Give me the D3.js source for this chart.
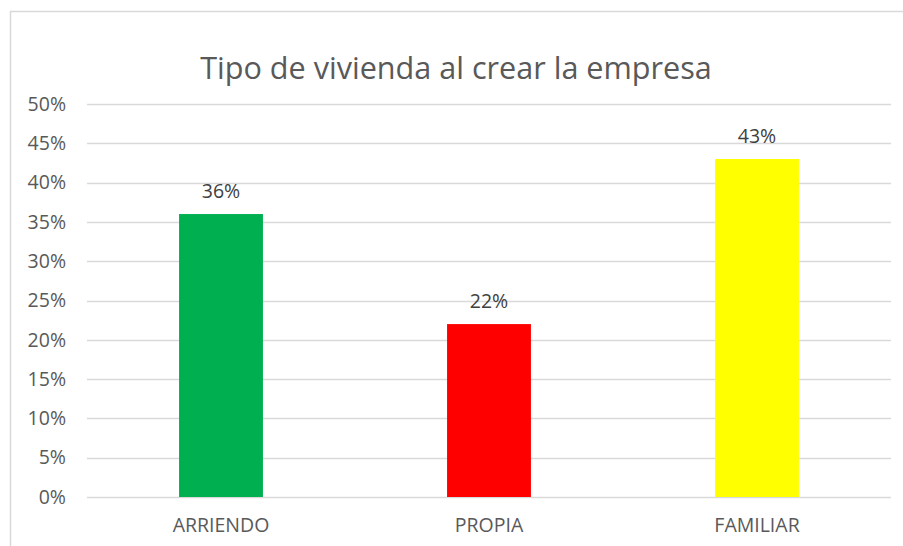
<!DOCTYPE html>
<html>
<head>
<meta charset="utf-8">
<script src="https://cdn.jsdelivr.net/npm/d3@7"></script>
<style>
  body { margin: 0; background: #fff; }
  svg { font-family: "Open Sans", sans-serif; }
</style>
</head>
<body>
<svg width="903" height="546"></svg>
<script>
var categories = ["ARRIENDO", "PROPIA", "FAMILIAR"];
var values = [0.36, 0.22, 0.43];
var barColors = ["#00B050", "#FF0000", "#FFFF00"];
var yTicks = [0, 0.05, 0.10, 0.15, 0.20, 0.25, 0.30, 0.35, 0.40, 0.45, 0.50];
var title = "Tipo de vivienda al crear la empresa";

var svg = d3.select("svg"),
    margin = {top: 104, right: 12, bottom: 49, left: 87},
    width = +svg.attr("width") - margin.left - margin.right,
    height = +svg.attr("height") - margin.top - margin.bottom;

// chart frame (only top and left edges are visible in the crop)
svg.append("rect")
    .attr("x", 10.5).attr("y", 11.5)
    .attr("width", 1000).attr("height", 1000)
    .attr("fill", "none")
    .attr("stroke", "#d9d9d9")
    .attr("stroke-width", 1.5);

var x = d3.scaleBand()
    .domain(categories)
    .range([0, width])
    .paddingInner(0.687)
    .paddingOuter(0.3435);

var y = d3.scaleLinear()
    .domain([0, 0.5])
    .range([height, 0]);

var g = svg.append("g")
    .attr("transform", "translate(" + margin.left + "," + margin.top + ")");

// gridlines
g.append("g")
    .selectAll("line")
    .data(yTicks)
    .enter().append("line")
    .attr("x1", 0).attr("x2", width)
    .attr("y1", function(d) { return Math.round(y(d)) + 0.5; })
    .attr("y2", function(d) { return Math.round(y(d)) + 0.5; })
    .attr("stroke", "#d9d9d9")
    .attr("stroke-width", 1.5);

var yAxis = d3.axisLeft(y)
    .tickValues(yTicks)
    .tickFormat(d3.format(".0%"))
    .tickSize(0)
    .tickPadding(21);

g.append("g")
    .call(yAxis)
    .call(function(a) { a.select(".domain").remove(); })
    .selectAll("text")
    .attr("fill", "#595959")
    .attr("font-size", 19.5)
    .attr("font-family", "Open Sans, sans-serif");

g.selectAll(".bar")
    .data(values)
    .enter().append("rect")
    .attr("class", "bar")
    .attr("x", function(d, i) { return x(categories[i]); })
    .attr("width", x.bandwidth())
    .attr("y", function(d) { return y(d); })
    .attr("height", function(d) { return height - y(d); })
    .attr("fill", function(d, i) { return barColors[i]; });

g.selectAll(".label")
    .data(values)
    .enter().append("text")
    .attr("class", "label")
    .attr("x", function(d, i) { return x(categories[i]) + x.bandwidth() / 2; })
    .attr("y", function(d) { return y(d) - 16; })
    .attr("text-anchor", "middle")
    .attr("fill", "#404040")
    .attr("font-size", 19.5)
    .text(d3.format(".0%"));

var xAxis = d3.axisBottom(x).tickSize(0).tickPadding(21);

g.append("g")
    .attr("transform", "translate(0," + height + ")")
    .call(xAxis)
    .call(function(a) { a.select(".domain").remove(); })
    .selectAll("text")
    .attr("fill", "#595959")
    .attr("font-size", 19.5)
    .attr("font-family", "Open Sans, sans-serif");

svg.append("text")
    .attr("x", 456)
    .attr("y", 79)
    .attr("text-anchor", "middle")
    .attr("fill", "#595959")
    .attr("font-size", 30.6)
    .text(title);
</script>
</body>
</html>
